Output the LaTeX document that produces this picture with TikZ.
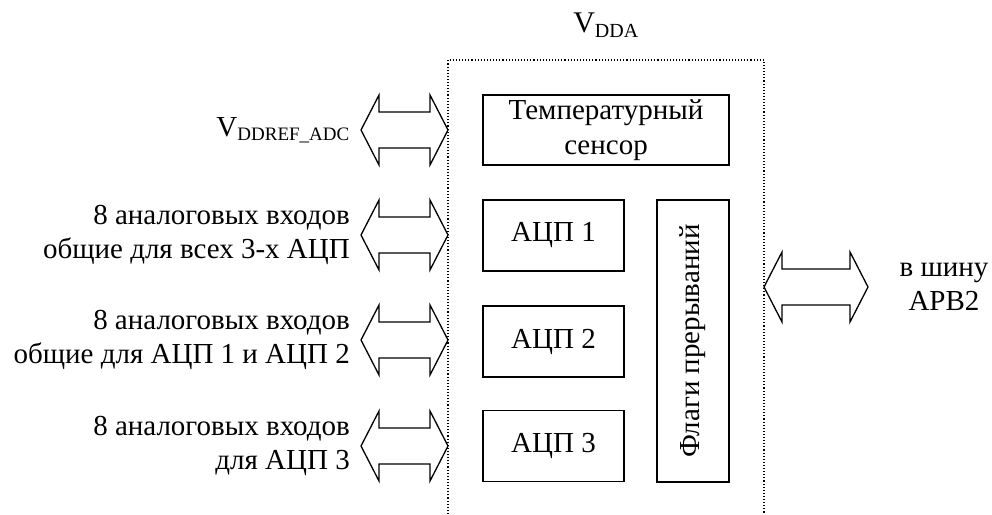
\documentclass[tikz,border=0pt]{standalone}
\usepackage{fontspec}
\setmainfont{Liberation Serif}
\usetikzlibrary{calc,positioning}

% outline of a wide two-headed arrow between two tip coordinates
\newcommand{\fatarrow}[2]{%
  \draw[fat] (#1) -- ++(18,-35) -- ++(0,17) -- ($(#2)+(-18,-18)$) -- ++(0,-17)
    -- (#2) -- ++(-18,35) -- ++(0,-17) -- ($(#1)+(18,18)$) -- ++(0,17) -- cycle;}

\begin{document}
\begin{tikzpicture}[x=1pt,y=-1pt,
    blk/.style={rectangle, draw, line width=1.6pt, inner sep=0pt,
                align=center, font=\fontsize{29}{35}\selectfont},
    fat/.style={draw, line width=1.3pt, line join=miter},
    lbl/.style={align=right, anchor=east, inner sep=0pt,
                font=\fontsize{29}{34}\selectfont}
  ]
    \useasboundingbox (0,0) rectangle (992,514);

    % Dotted outline of the analog block
    \draw[dotted, line width=1.1pt] (448,514) -- (448,60) -- (764,60) -- (764,514);
    \node[inner sep=0pt, font=\fontsize{30}{34}\selectfont] (vdda) at (606,25)
      {V\textsubscript{\fontsize{20}{24}\selectfont DDA}};

    % Inner blocks
    \node[blk, minimum width=246, minimum height=70] (sens) at (606,130)
      {Температурный\\сенсор};
    \node[blk, minimum width=141, minimum height=71] (adc1) at (553.5,235.5) {АЦП 1};
    \node[blk, minimum width=141, minimum height=71] (adc2) at (553.5,341.5) {АЦП 2};
    \node[blk, minimum width=141, minimum height=71] (adc3) at (553.5,446) {АЦП 3};
    \node[blk, minimum width=72, minimum height=282] (flags) at (693,341) {};
    \node[rotate=90, font=\fontsize{29}{34}\selectfont] (flagtxt) at (flags.center)
      {Флаги прерываний};

    % Arrow tips
    \coordinate (r1) at (361,130);  \coordinate (s1) at (448,130);
    \coordinate (r2) at (361,235);  \coordinate (s2) at (448,235);
    \coordinate (r3) at (361,340);  \coordinate (s3) at (448,340);
    \coordinate (r4) at (361,446);  \coordinate (s4) at (448,446);
    \coordinate (bus) at (764,287); \coordinate (apb) at (868,287);

    \fatarrow{r1}{s1}
    \fatarrow{r2}{s2}
    \fatarrow{r3}{s3}
    \fatarrow{r4}{s4}
    \fatarrow{bus}{apb}

    % Left labels
    \node[lbl] (vref) at (350,130)
      {V\textsubscript{\fontsize{19}{22}\selectfont DDREF\_ADC}};
    \node[lbl] (in1) at (350,235) {8 аналоговых входов\\общие для всех 3-х АЦП};
    \node[lbl] (in2) at (350,340) {8 аналоговых входов\\общие для  АЦП 1 и АЦП 2};
    \node[lbl] (in3) at (350,446) {8 аналоговых входов\\для АЦП 3};

    % Right label
    \node[inner sep=0pt, align=center, font=\fontsize{29}{34}\selectfont] (apbtxt)
      at (944,287) {в шину\\APB2};
  \end{tikzpicture}
\end{document}
